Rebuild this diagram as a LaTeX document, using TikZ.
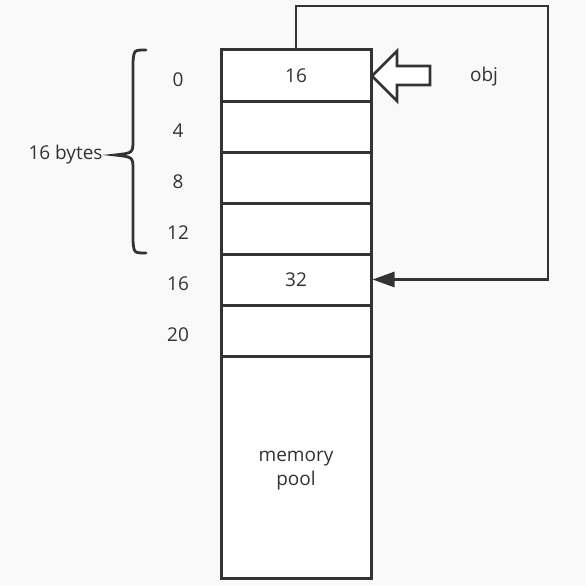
\documentclass[tikz,border=0pt]{standalone}
\usepackage{fontspec}
\setmainfont{Open Sans}
\usepackage{xcolor}
\usetikzlibrary{arrows.meta}

\begin{document}
\begin{tikzpicture}[x=1pt,y=-1pt,
  cell/.style={draw=ink,fill=white,line width=3pt,minimum width=150pt,minimum height=51pt,inner sep=0pt},
  offset/.style={inner sep=0pt},
  txt/.style={font=\fontsize{19}{24}\selectfont,text=ink}]
\definecolor{ink}{HTML}{333333}
\definecolor{paper}{HTML}{F9F9F9}
\fill[paper] (0,0) rectangle (586,586);
\useasboundingbox (0,0) rectangle (586,586);
  % pool below the cells
  \node[cell,minimum height=222pt] (pool) at (296,467) {};
  \node[txt,align=center] (poolname) at (296,471) {memory\\pool};
  \foreach \val/\off/\i in {16/0/0,/4/1,/8/2,/12/3,32/16/4,/20/5}
  {  \node [cell,txt] (c\i) at (296,75.5+51*\i) {\val};
     \node [offset,txt] (o\i) at (178,80+51*\i) {\off};}
  % brace over the first four offsets
  \draw[ink,line width=2.8pt,line cap=round]
    (146,50) .. controls (134,50) .. (133,62) -- (133,140)
    .. controls (133,153) .. (115,155) .. controls (133,157) .. (133,170)
    -- (133,241) .. controls (134,253) .. (146,253);
  \node[txt,anchor=east] (size) at (106,155) {16 bytes};
  \node[txt] (obj) at (484,77) {obj};
  % hollow pointer arrow
  \coordinate (tip) at (372,76);
  \draw[ink,fill=white,line width=2.8pt,line join=miter]
    (tip) -- ++(25,-25) -- ++(0,15) -- ++(33,0) -- ++(0,19) -- ++(-33,0) -- ++(0,16) -- cycle;
  \coordinate (top) at (296,6);
  \coordinate (corner) at (548,6);
  \draw[ink,line width=2.8pt,-{Triangle[length=22pt,width=15pt]}]
    (c0.north) -- (top) -- (corner) |- (c4.east);
\end{tikzpicture}
\end{document}
